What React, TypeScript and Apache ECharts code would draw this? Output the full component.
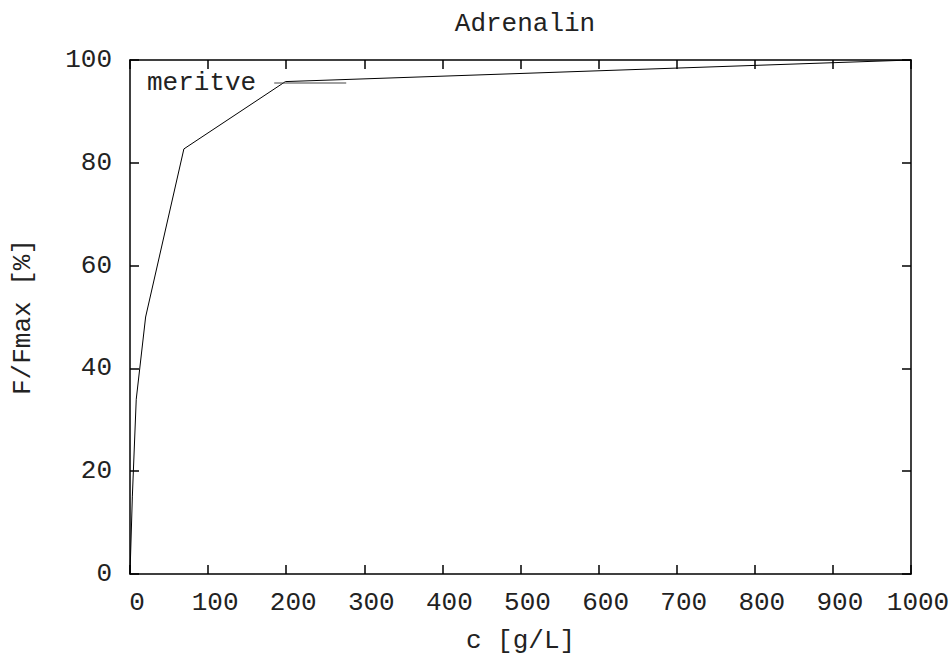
import React, { useEffect, useRef } from "react";
import * as echarts from "echarts";

const titleText = "Adrenalin";
const seriesName = "meritve";
const xName = "c [g/L]";
const yName = "F/Fmax [%]";
const concentration = [0, 3, 8, 20, 69, 199, 1000];
const response = [0, 15, 34, 50, 82.7, 95.8, 100];
const xTicks = [0, 100, 200, 300, 400, 500, 600, 700, 800, 900, 1000];
const yTicks = [0, 20, 40, 60, 80, 100];

const FONT = "Liberation Mono";

export default function App() {
  const ref = useRef<HTMLDivElement>(null);
  useEffect(() => {
    if (!ref.current) return;
    const chart = echarts.init(ref.current, undefined, { renderer: "svg" });
    const axisLine = { show: true, onZero: false, lineStyle: { color: "#000", width: 1.5 } };
    const tickIn = { show: true, inside: true, length: 9, lineStyle: { color: "#000", width: 1.5 } };
    const labelStyle = { color: "#222", fontFamily: FONT, fontSize: 26 };
    chart.setOption({
      animation: false,
      backgroundColor: "#fff",
      title: {
        text: titleText,
        left: 520,
        top: 6,
        textAlign: "center",
        textStyle: { fontFamily: FONT, fontSize: 26, fontWeight: "normal", color: "#222" },
      },
      legend: {
        data: [{ name: seriesName, icon: "rect" }],
        left: 142,
        top: 65,
        align: "right",
        itemWidth: 72,
        itemHeight: 1.2,
        itemStyle: { color: "#444" },
        textStyle: { fontFamily: FONT, fontSize: 26, color: "#222", padding: [0, 13, 0, 0] },
      },
      grid: { left: 130, right: 41, top: 60, bottom: 82, containLabel: false, outerBoundsMode: "none" },
      xAxis: [
        {
          type: "value",
          min: 0,
          max: 1000,
          interval: 100,
          name: xName,
          nameLocation: "middle",
          nameGap: 54,
          nameTextStyle: { ...labelStyle, lineHeight: 26 },
          axisLine,
          axisTick: tickIn,
          splitLine: { show: false },
          axisLabel: {
            ...labelStyle,
            margin: 16,
            padding: [0, 0, 0, 14],
            customValues: xTicks,
            formatter: (v: number) => String(v),
          },
        },
        {
          type: "value",
          position: "top",
          min: 0,
          max: 1000,
          interval: 100,
          axisLine,
          axisTick: tickIn,
          axisLabel: { show: false },
          splitLine: { show: false },
        },
      ],
      yAxis: [
        {
          type: "value",
          min: 0,
          max: 100,
          interval: 20,
          name: yName,
          nameLocation: "middle",
          nameGap: 94,
          nameRotate: 90,
          nameTextStyle: { ...labelStyle },
          axisLine,
          axisTick: tickIn,
          splitLine: { show: false },
          axisLabel: { ...labelStyle, margin: 18, customValues: yTicks, formatter: (v: number) => String(v) },
        },
        {
          type: "value",
          position: "right",
          min: 0,
          max: 100,
          interval: 20,
          axisLine,
          axisTick: tickIn,
          axisLabel: { show: false },
          splitLine: { show: false },
        },
      ],
      series: [
        {
          name: seriesName,
          type: "line",
          xAxisIndex: 0,
          yAxisIndex: 0,
          symbol: "none",
          data: concentration.map((c, i) => [c, response[i]]),
          lineStyle: { color: "#000", width: 1 },
          itemStyle: { color: "#000" },
        },
      ],
    });
    return () => chart.dispose();
  }, []);
  return (
    <div
      ref={ref}
      style={{ position: "fixed", left: 0, top: 0, width: 952, height: 656, background: "#fff" }}
    />
  );
}
